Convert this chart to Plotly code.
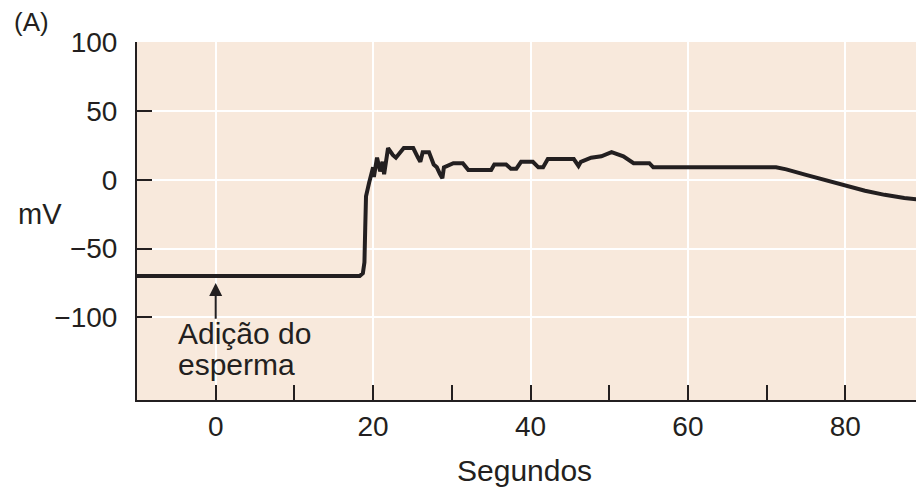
import plotly.graph_objects as go

# Membrane potential trace (seconds, mV)
time_s = [-10, 18.3, 18.7, 18.9, 19.0, 19.1, 19.5, 20.0, 20.1, 20.5, 20.9, 21.2, 21.4,
          21.9, 22.5, 22.9, 23.9, 25.1, 25.7, 26.0, 26.3, 27.1, 27.7, 28.1, 28.5, 28.8,
          29.0, 29.5, 30.2, 31.4, 32.1, 35.0, 35.4, 36.9, 37.5, 38.2, 38.8, 40.3, 41.0,
          41.6, 42.2, 45.5, 46.1, 46.4, 47.7, 49.0, 50.3, 51.8, 53.1, 55.1, 55.6, 71.2,
          72.5, 75.0, 77.5, 80.0, 82.5, 85.0, 87.5, 90.0]
membrane_mV = [-70, -70, -68, -60, -35, -12, -2, 9, 2, 16, 6, 13, 4,
               23, 18, 16, 23, 23, 16, 13, 20, 20, 11, 9, 4, 1,
               9, 10, 12, 12, 7, 7, 11, 11, 8, 8, 13, 13, 9,
               9, 15, 15, 10, 13, 16, 17, 20, 17, 12, 12, 9, 9,
               7.5, 3.5, -0.5, -4.5, -8, -11, -13.3, -14.8]

y_tick_vals = [-100, -50, 0, 50, 100]
y_tick_text = ["\u2212100", "\u221250", "0", "50", "100"]
x_tick_vals = [0, 20, 40, 60, 80]
x_minor_vals = [10, 30, 50, 70]

ink = "#231f20"
font_family = "Liberation Sans, Arial, sans-serif"

fig = go.Figure()
fig.add_trace(go.Scatter(x=time_s, y=membrane_mV, mode="lines",
                         line=dict(color=ink, width=4), showlegend=False))

# page body has an 8px margin, so the figure is sized to fill the rest
fig.update_layout(
    width=916, height=484,
    margin=dict(l=129, r=0, t=34, b=92),
    paper_bgcolor="white",
    plot_bgcolor="#f8e9dc",
    font=dict(family=font_family, color=ink, size=28),
)
fig.update_xaxes(
    range=[-10, 90], tickvals=x_tick_vals,
    showline=True, linecolor=ink, linewidth=2,
    ticks="inside", ticklen=15, tickwidth=2, tickcolor=ink,
    showgrid=True, gridcolor="white", gridwidth=2, zeroline=False,
    minor=dict(tickvals=x_minor_vals, ticks="inside", ticklen=15, tickwidth=2,
               tickcolor=ink, showgrid=False),
    tickfont=dict(size=28, color=ink), ticklabelstandoff=0,
)
fig.update_yaxes(
    range=[-160, 100], tickvals=y_tick_vals, ticktext=y_tick_text,
    showline=True, linecolor=ink, linewidth=2,
    ticks="inside", ticklen=15, tickwidth=2, tickcolor=ink,
    showgrid=True, gridcolor="white", gridwidth=2, zeroline=False,
    tickfont=dict(size=28, color=ink), ticklabelstandoff=12,
)

# arrow for sperm addition
fig.add_annotation(x=0, y=-75, ax=0, ay=-102, xref="x", yref="y", axref="x", ayref="y",
                   showarrow=True, arrowhead=2, arrowsize=1.3, arrowwidth=2,
                   arrowcolor=ink, text="")
fig.add_annotation(x=-5, y=-112, xref="x", yref="y", text="Adição do",
                   showarrow=False, xanchor="left", yanchor="middle",
                   font=dict(size=30, color=ink))
fig.add_annotation(x=-5, y=-134, xref="x", yref="y", text="esperma",
                   showarrow=False, xanchor="left", yanchor="middle",
                   font=dict(size=30, color=ink))
fig.add_annotation(x=0, y=-25, xref="paper", yref="y", text="mV", showarrow=False,
                   xanchor="right", yanchor="middle", xshift=-73,
                   font=dict(size=29, color=ink))
fig.add_annotation(x=0.5, y=0, xref="paper", yref="paper", text="Segundos",
                   showarrow=False, xanchor="center", yanchor="middle",
                   xshift=-6, yshift=-70, font=dict(size=30, color=ink))
fig.add_annotation(x=0, y=1, xref="paper", yref="paper", text="(A)", showarrow=False,
                   xanchor="left", yanchor="middle", xshift=-125, yshift=20,
                   font=dict(size=26, color=ink))

fig.write_html(
    "out.html",
    post_script="document.documentElement.style.overflow='hidden';"
                "document.body.style.overflow='hidden';",
)
